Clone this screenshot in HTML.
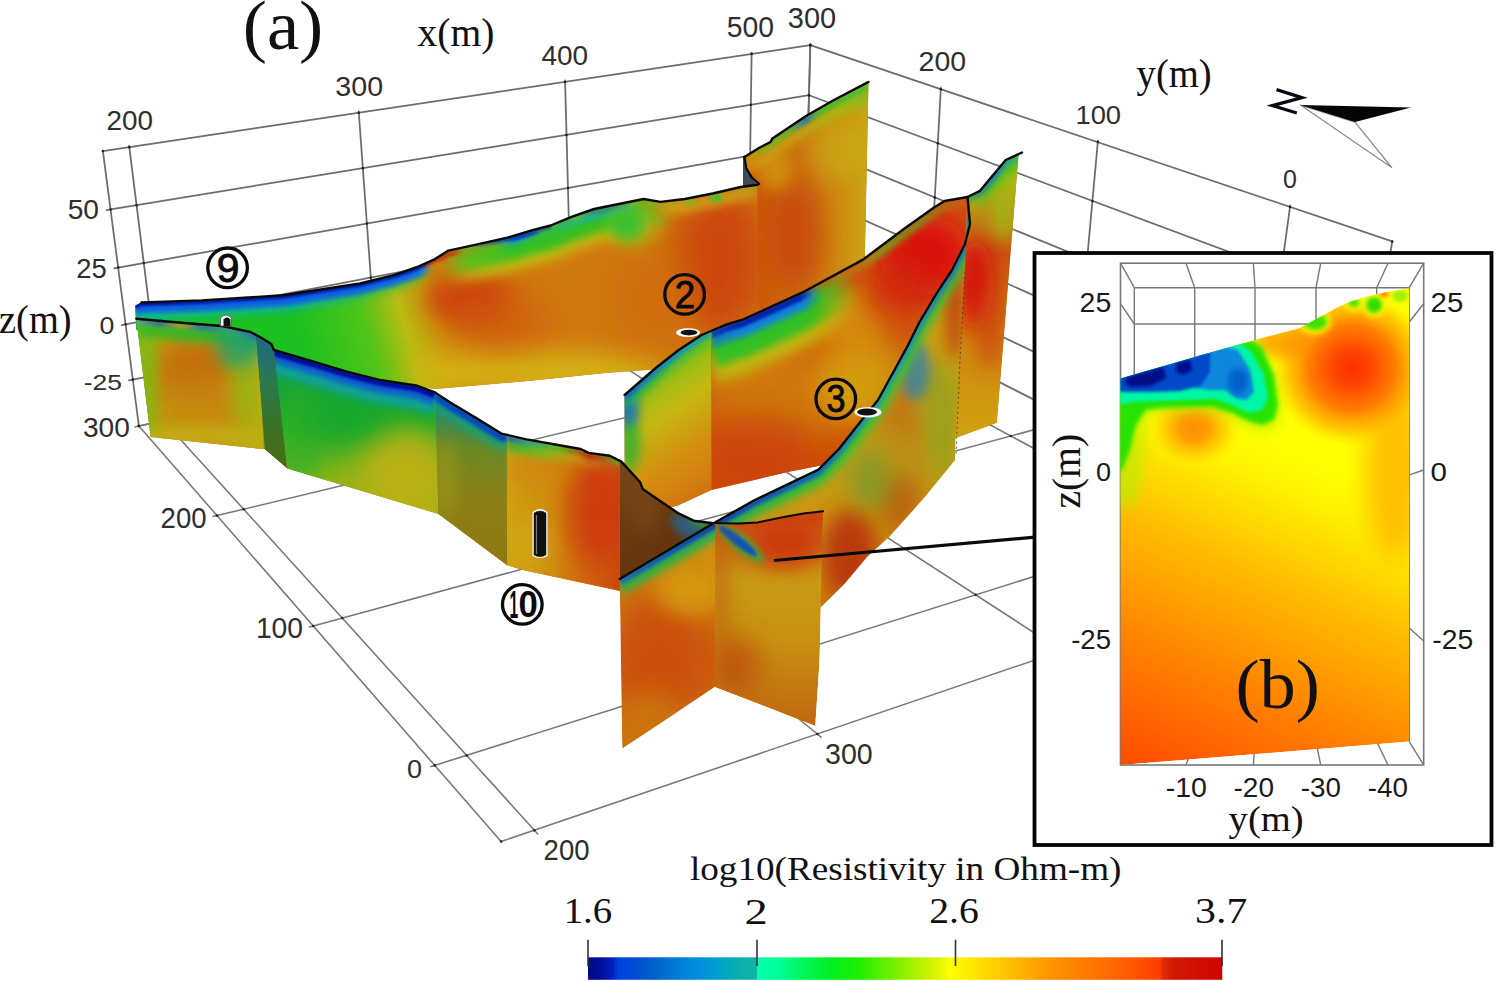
<!DOCTYPE html>
<html><head><meta charset="utf-8"><style>
html,body{margin:0;padding:0;background:#fff;}
svg{display:block;}
</style></head><body>
<svg width="1500" height="981" viewBox="0 0 1500 981">
<rect width="1500" height="981" fill="#fff"/>
<g id="grid" stroke-linecap="round">
<line x1="102.9" y1="151.1" x2="810.3" y2="45.2" stroke="#6c6c6c" stroke-width="1.75"/>
<line x1="110.6" y1="209.4" x2="809.0" y2="95.2" stroke="#6c6c6c" stroke-width="1.75"/>
<line x1="118.2" y1="267.6" x2="807.7" y2="145.4" stroke="#6c6c6c" stroke-width="1.75"/>
<line x1="125.6" y1="324.3" x2="806.4" y2="194.5" stroke="#6c6c6c" stroke-width="1.75"/>
<line x1="132.8" y1="379.6" x2="805.1" y2="242.5" stroke="#6c6c6c" stroke-width="1.75"/>
<line x1="138.9" y1="426.0" x2="804.0" y2="283.1" stroke="#6c6c6c" stroke-width="1.75"/>
<line x1="138.9" y1="426.0" x2="102.9" y2="151.1" stroke="#6c6c6c" stroke-width="1.75"/>
<line x1="163.5" y1="420.7" x2="129.3" y2="147.2" stroke="#6c6c6c" stroke-width="1.75"/>
<line x1="377.9" y1="374.7" x2="358.8" y2="112.8" stroke="#6c6c6c" stroke-width="1.75"/>
<line x1="571.9" y1="333.0" x2="565.1" y2="81.9" stroke="#6c6c6c" stroke-width="1.75"/>
<line x1="748.2" y1="295.1" x2="751.6" y2="54.0" stroke="#6c6c6c" stroke-width="1.75"/>
<line x1="804.0" y1="283.1" x2="810.3" y2="45.2" stroke="#6c6c6c" stroke-width="1.75"/>
<line x1="810.3" y1="45.2" x2="1392.2" y2="241.4" stroke="#6c6c6c" stroke-width="1.75"/>
<line x1="809.0" y1="95.2" x2="1381.4" y2="308.7" stroke="#6c6c6c" stroke-width="1.75"/>
<line x1="807.7" y1="145.4" x2="1370.7" y2="375.5" stroke="#6c6c6c" stroke-width="1.75"/>
<line x1="806.4" y1="194.5" x2="1360.3" y2="440.2" stroke="#6c6c6c" stroke-width="1.75"/>
<line x1="805.1" y1="242.5" x2="1350.2" y2="503.1" stroke="#6c6c6c" stroke-width="1.75"/>
<line x1="804.0" y1="283.1" x2="1341.8" y2="555.7" stroke="#6c6c6c" stroke-width="1.75"/>
<line x1="804.0" y1="283.1" x2="810.3" y2="45.2" stroke="#6c6c6c" stroke-width="1.75"/>
<line x1="926.6" y1="345.3" x2="940.8" y2="89.2" stroke="#6c6c6c" stroke-width="1.75"/>
<line x1="1072.5" y1="419.2" x2="1097.8" y2="142.1" stroke="#6c6c6c" stroke-width="1.75"/>
<line x1="1249.0" y1="508.7" x2="1290.0" y2="206.9" stroke="#6c6c6c" stroke-width="1.75"/>
<line x1="1341.8" y1="555.7" x2="1392.2" y2="241.4" stroke="#6c6c6c" stroke-width="1.75"/>
<line x1="138.9" y1="426.0" x2="804.0" y2="283.1" stroke="#787878" stroke-width="1.55"/>
<line x1="217.0" y1="515.6" x2="926.6" y2="345.3" stroke="#787878" stroke-width="1.55"/>
<line x1="313.2" y1="626.0" x2="1072.5" y2="419.2" stroke="#787878" stroke-width="1.55"/>
<line x1="434.7" y1="765.4" x2="1249.0" y2="508.7" stroke="#787878" stroke-width="1.55"/>
<line x1="501.1" y1="841.5" x2="1341.8" y2="555.7" stroke="#787878" stroke-width="1.55"/>
<line x1="138.9" y1="426.0" x2="501.1" y2="841.5" stroke="#787878" stroke-width="1.55"/>
<line x1="163.5" y1="420.7" x2="534.4" y2="830.2" stroke="#787878" stroke-width="1.55"/>
<line x1="377.9" y1="374.7" x2="817.3" y2="734.0" stroke="#787878" stroke-width="1.55"/>
<line x1="571.9" y1="333.0" x2="1062.0" y2="650.8" stroke="#787878" stroke-width="1.55"/>
<line x1="748.2" y1="295.1" x2="1275.8" y2="578.1" stroke="#787878" stroke-width="1.55"/>
<line x1="804.0" y1="283.1" x2="1341.8" y2="555.7" stroke="#787878" stroke-width="1.55"/>
<line x1="129.3" y1="147.2" x2="129.2" y2="145.7" stroke="#6c6c6c" stroke-width="1.75"/>
<line x1="358.8" y1="112.8" x2="358.7" y2="111.3" stroke="#6c6c6c" stroke-width="1.75"/>
<line x1="565.1" y1="81.9" x2="565.0" y2="80.4" stroke="#6c6c6c" stroke-width="1.75"/>
<line x1="751.6" y1="54.0" x2="751.6" y2="52.5" stroke="#6c6c6c" stroke-width="1.75"/>
<line x1="110.6" y1="209.4" x2="106.6" y2="210.1" stroke="#6c6c6c" stroke-width="1.75"/>
<line x1="118.2" y1="267.6" x2="114.2" y2="268.3" stroke="#6c6c6c" stroke-width="1.75"/>
<line x1="125.6" y1="324.3" x2="121.7" y2="325.1" stroke="#6c6c6c" stroke-width="1.75"/>
<line x1="132.8" y1="379.6" x2="128.9" y2="380.4" stroke="#6c6c6c" stroke-width="1.75"/>
<line x1="138.9" y1="426.0" x2="135.0" y2="426.9" stroke="#787878" stroke-width="1.55"/>
<line x1="217.0" y1="515.6" x2="213.1" y2="516.5" stroke="#787878" stroke-width="1.55"/>
<line x1="313.2" y1="626.0" x2="309.3" y2="627.0" stroke="#787878" stroke-width="1.55"/>
<line x1="434.7" y1="765.4" x2="430.9" y2="766.6" stroke="#787878" stroke-width="1.55"/>
<line x1="810.3" y1="45.2" x2="810.4" y2="43.7" stroke="#6c6c6c" stroke-width="1.75"/>
<line x1="940.8" y1="89.2" x2="940.9" y2="87.7" stroke="#6c6c6c" stroke-width="1.75"/>
<line x1="1097.8" y1="142.1" x2="1097.9" y2="140.6" stroke="#6c6c6c" stroke-width="1.75"/>
<line x1="1290.0" y1="206.9" x2="1290.2" y2="205.4" stroke="#6c6c6c" stroke-width="1.75"/>
<line x1="534.4" y1="830.2" x2="537.7" y2="833.9" stroke="#787878" stroke-width="1.55"/>
<line x1="817.3" y1="734.0" x2="821.1" y2="737.2" stroke="#787878" stroke-width="1.55"/>
<circle cx="102.9" cy="151.1" r="1.25" fill="#1e1e1e"/>
<circle cx="110.6" cy="209.4" r="1.25" fill="#1e1e1e"/>
<circle cx="118.2" cy="267.6" r="1.25" fill="#1e1e1e"/>
<circle cx="125.6" cy="324.3" r="1.25" fill="#1e1e1e"/>
<circle cx="132.8" cy="379.6" r="1.25" fill="#1e1e1e"/>
<circle cx="138.9" cy="426.0" r="1.25" fill="#1e1e1e"/>
<circle cx="138.9" cy="426.0" r="1.25" fill="#1e1e1e"/>
<circle cx="217.0" cy="515.6" r="1.25" fill="#1e1e1e"/>
<circle cx="313.2" cy="626.0" r="1.25" fill="#1e1e1e"/>
<circle cx="434.7" cy="765.4" r="1.25" fill="#1e1e1e"/>
<circle cx="501.1" cy="841.5" r="1.25" fill="#1e1e1e"/>
<circle cx="129.3" cy="147.2" r="1.25" fill="#1e1e1e"/>
<circle cx="136.6" cy="205.2" r="1.25" fill="#1e1e1e"/>
<circle cx="143.8" cy="263.1" r="1.25" fill="#1e1e1e"/>
<circle cx="150.9" cy="319.5" r="1.25" fill="#1e1e1e"/>
<circle cx="157.7" cy="374.5" r="1.25" fill="#1e1e1e"/>
<circle cx="163.5" cy="420.7" r="1.25" fill="#1e1e1e"/>
<circle cx="163.5" cy="420.7" r="1.25" fill="#1e1e1e"/>
<circle cx="243.6" cy="509.2" r="1.25" fill="#1e1e1e"/>
<circle cx="342.3" cy="618.1" r="1.25" fill="#1e1e1e"/>
<circle cx="466.6" cy="755.4" r="1.25" fill="#1e1e1e"/>
<circle cx="534.4" cy="830.2" r="1.25" fill="#1e1e1e"/>
<circle cx="358.8" cy="112.8" r="1.25" fill="#1e1e1e"/>
<circle cx="362.8" cy="168.2" r="1.25" fill="#1e1e1e"/>
<circle cx="366.9" cy="223.6" r="1.25" fill="#1e1e1e"/>
<circle cx="370.8" cy="277.6" r="1.25" fill="#1e1e1e"/>
<circle cx="374.7" cy="330.3" r="1.25" fill="#1e1e1e"/>
<circle cx="377.9" cy="374.7" r="1.25" fill="#1e1e1e"/>
<circle cx="377.9" cy="374.7" r="1.25" fill="#1e1e1e"/>
<circle cx="474.6" cy="453.7" r="1.25" fill="#1e1e1e"/>
<circle cx="592.3" cy="550.0" r="1.25" fill="#1e1e1e"/>
<circle cx="738.5" cy="669.6" r="1.25" fill="#1e1e1e"/>
<circle cx="817.3" cy="734.0" r="1.25" fill="#1e1e1e"/>
<circle cx="565.1" cy="81.9" r="1.25" fill="#1e1e1e"/>
<circle cx="566.5" cy="134.9" r="1.25" fill="#1e1e1e"/>
<circle cx="568.0" cy="187.9" r="1.25" fill="#1e1e1e"/>
<circle cx="569.4" cy="239.7" r="1.25" fill="#1e1e1e"/>
<circle cx="570.8" cy="290.3" r="1.25" fill="#1e1e1e"/>
<circle cx="571.9" cy="333.0" r="1.25" fill="#1e1e1e"/>
<circle cx="571.9" cy="333.0" r="1.25" fill="#1e1e1e"/>
<circle cx="681.6" cy="404.1" r="1.25" fill="#1e1e1e"/>
<circle cx="813.6" cy="489.7" r="1.25" fill="#1e1e1e"/>
<circle cx="975.7" cy="594.8" r="1.25" fill="#1e1e1e"/>
<circle cx="1062.0" cy="650.8" r="1.25" fill="#1e1e1e"/>
<circle cx="751.6" cy="54.0" r="1.25" fill="#1e1e1e"/>
<circle cx="750.9" cy="104.7" r="1.25" fill="#1e1e1e"/>
<circle cx="750.2" cy="155.6" r="1.25" fill="#1e1e1e"/>
<circle cx="749.5" cy="205.4" r="1.25" fill="#1e1e1e"/>
<circle cx="748.8" cy="254.0" r="1.25" fill="#1e1e1e"/>
<circle cx="748.2" cy="295.1" r="1.25" fill="#1e1e1e"/>
<circle cx="748.2" cy="295.1" r="1.25" fill="#1e1e1e"/>
<circle cx="868.0" cy="359.3" r="1.25" fill="#1e1e1e"/>
<circle cx="1010.9" cy="436.0" r="1.25" fill="#1e1e1e"/>
<circle cx="1184.3" cy="529.1" r="1.25" fill="#1e1e1e"/>
<circle cx="1275.8" cy="578.1" r="1.25" fill="#1e1e1e"/>
<circle cx="810.3" cy="45.2" r="1.25" fill="#1e1e1e"/>
<circle cx="809.0" cy="95.2" r="1.25" fill="#1e1e1e"/>
<circle cx="807.7" cy="145.4" r="1.25" fill="#1e1e1e"/>
<circle cx="806.4" cy="194.5" r="1.25" fill="#1e1e1e"/>
<circle cx="805.1" cy="242.5" r="1.25" fill="#1e1e1e"/>
<circle cx="804.0" cy="283.1" r="1.25" fill="#1e1e1e"/>
<circle cx="804.0" cy="283.1" r="1.25" fill="#1e1e1e"/>
<circle cx="926.6" cy="345.3" r="1.25" fill="#1e1e1e"/>
<circle cx="1072.5" cy="419.2" r="1.25" fill="#1e1e1e"/>
<circle cx="1249.0" cy="508.7" r="1.25" fill="#1e1e1e"/>
<circle cx="1341.8" cy="555.7" r="1.25" fill="#1e1e1e"/>
<circle cx="810.3" cy="45.2" r="1.25" fill="#1e1e1e"/>
<circle cx="809.0" cy="95.2" r="1.25" fill="#1e1e1e"/>
<circle cx="807.7" cy="145.4" r="1.25" fill="#1e1e1e"/>
<circle cx="806.4" cy="194.5" r="1.25" fill="#1e1e1e"/>
<circle cx="805.1" cy="242.5" r="1.25" fill="#1e1e1e"/>
<circle cx="804.0" cy="283.1" r="1.25" fill="#1e1e1e"/>
<circle cx="940.8" cy="89.2" r="1.25" fill="#1e1e1e"/>
<circle cx="937.8" cy="143.3" r="1.25" fill="#1e1e1e"/>
<circle cx="934.8" cy="197.4" r="1.25" fill="#1e1e1e"/>
<circle cx="931.9" cy="250.2" r="1.25" fill="#1e1e1e"/>
<circle cx="929.0" cy="301.8" r="1.25" fill="#1e1e1e"/>
<circle cx="926.6" cy="345.3" r="1.25" fill="#1e1e1e"/>
<circle cx="1097.8" cy="142.1" r="1.25" fill="#1e1e1e"/>
<circle cx="1092.4" cy="200.9" r="1.25" fill="#1e1e1e"/>
<circle cx="1087.1" cy="259.6" r="1.25" fill="#1e1e1e"/>
<circle cx="1081.8" cy="316.7" r="1.25" fill="#1e1e1e"/>
<circle cx="1076.8" cy="372.4" r="1.25" fill="#1e1e1e"/>
<circle cx="1072.5" cy="419.2" r="1.25" fill="#1e1e1e"/>
<circle cx="1290.0" cy="206.9" r="1.25" fill="#1e1e1e"/>
<circle cx="1281.3" cy="271.3" r="1.25" fill="#1e1e1e"/>
<circle cx="1272.5" cy="335.4" r="1.25" fill="#1e1e1e"/>
<circle cx="1264.1" cy="397.6" r="1.25" fill="#1e1e1e"/>
<circle cx="1255.9" cy="458.0" r="1.25" fill="#1e1e1e"/>
<circle cx="1249.0" cy="508.7" r="1.25" fill="#1e1e1e"/>
<circle cx="1392.2" cy="241.4" r="1.25" fill="#1e1e1e"/>
<circle cx="1381.4" cy="308.7" r="1.25" fill="#1e1e1e"/>
<circle cx="1370.7" cy="375.5" r="1.25" fill="#1e1e1e"/>
<circle cx="1360.3" cy="440.2" r="1.25" fill="#1e1e1e"/>
<circle cx="1350.2" cy="503.1" r="1.25" fill="#1e1e1e"/>
<circle cx="1341.8" cy="555.7" r="1.25" fill="#1e1e1e"/>
</g>
<g id="panels">
<defs><filter id="b6" x="-100%" y="-100%" width="300%" height="300%"><feGaussianBlur stdDeviation="6"/></filter>
<filter id="b12" x="-100%" y="-100%" width="300%" height="300%"><feGaussianBlur stdDeviation="12"/></filter>
<filter id="b14" x="-100%" y="-100%" width="300%" height="300%"><feGaussianBlur stdDeviation="14"/></filter>
<filter id="b16" x="-100%" y="-100%" width="300%" height="300%"><feGaussianBlur stdDeviation="16"/></filter>
<filter id="b4" x="-100%" y="-100%" width="300%" height="300%"><feGaussianBlur stdDeviation="4"/></filter>
<filter id="b2_5" x="-100%" y="-100%" width="300%" height="300%"><feGaussianBlur stdDeviation="2.5"/></filter>
<filter id="b1_5" x="-100%" y="-100%" width="300%" height="300%"><feGaussianBlur stdDeviation="1.5"/></filter>
<filter id="b2" x="-100%" y="-100%" width="300%" height="300%"><feGaussianBlur stdDeviation="2"/></filter>
<filter id="b1_2" x="-100%" y="-100%" width="300%" height="300%"><feGaussianBlur stdDeviation="1.2"/></filter>
<filter id="b8" x="-100%" y="-100%" width="300%" height="300%"><feGaussianBlur stdDeviation="8"/></filter>
<filter id="b10" x="-100%" y="-100%" width="300%" height="300%"><feGaussianBlur stdDeviation="10"/></filter>
<filter id="b5" x="-100%" y="-100%" width="300%" height="300%"><feGaussianBlur stdDeviation="5"/></filter>
<filter id="b18" x="-100%" y="-100%" width="300%" height="300%"><feGaussianBlur stdDeviation="18"/></filter>
<filter id="b7" x="-100%" y="-100%" width="300%" height="300%"><feGaussianBlur stdDeviation="7"/></filter>
<filter id="b3" x="-100%" y="-100%" width="300%" height="300%"><feGaussianBlur stdDeviation="3"/></filter>
<filter id="b1_8" x="-100%" y="-100%" width="300%" height="300%"><feGaussianBlur stdDeviation="1.8"/></filter>
<linearGradient id="g1" gradientUnits="userSpaceOnUse" x1="300" y1="335" x2="480" y2="285"><stop offset="0" stop-color="#1cc020"/><stop offset="0.35" stop-color="#50c418"/><stop offset="0.55" stop-color="#b8bc12"/><stop offset="0.75" stop-color="#d09010"/><stop offset="1" stop-color="#d07810"/></linearGradient>
<clipPath id="c2"><polygon points="135.3,305.5 141.4,302.4 201.6,300.4 283.0,295.3 360.0,283.5 394.7,274.9 417.2,267.0 434.5,259.3 448.4,250.6 472.7,245.4 507.3,237.6 533.3,229.8 550.7,225.5 571.5,216.8 594.0,209.0 620.0,203.8 643.6,199.0 660.4,201.9 684.7,199.0 712.7,193.5 740.7,187.0 757.5,184.7 757.5,370.0 653.0,369.4 605.0,373.0 528.0,381.0 435.0,389.0 300.0,372.0 136.3,330.0"/></clipPath>
<linearGradient id="g3" gradientUnits="userSpaceOnUse" x1="440" y1="0" x2="670" y2="0"><stop offset="0.0000" stop-color="#c8c010" stop-opacity="0"/><stop offset="0.1522" stop-color="#c8c010" stop-opacity="0.8"/><stop offset="0.4348" stop-color="#c8c010" stop-opacity="0.9"/><stop offset="0.8261" stop-color="#c8c010" stop-opacity="0.8"/><stop offset="1.0000" stop-color="#c8c010" stop-opacity="0"/></linearGradient>
<linearGradient id="g4" gradientUnits="userSpaceOnUse" x1="440" y1="0" x2="675" y2="0"><stop offset="0.0000" stop-color="#40c020" stop-opacity="0"/><stop offset="0.1277" stop-color="#50c020" stop-opacity="0.9"/><stop offset="0.3404" stop-color="#30c020" stop-opacity="1"/><stop offset="0.7234" stop-color="#30c020" stop-opacity="1"/><stop offset="0.8936" stop-color="#50c020" stop-opacity="0.7"/><stop offset="1.0000" stop-color="#50c020" stop-opacity="0"/></linearGradient>
<linearGradient id="g5" gradientUnits="userSpaceOnUse" x1="495" y1="0" x2="640" y2="0"><stop offset="0.0000" stop-color="#10b0b0" stop-opacity="0"/><stop offset="0.1379" stop-color="#10a0c0" stop-opacity="0.9"/><stop offset="0.3448" stop-color="#30c040" stop-opacity="0.6"/><stop offset="0.6207" stop-color="#10b0c0" stop-opacity="1"/><stop offset="0.8966" stop-color="#10b0c0" stop-opacity="1"/><stop offset="1.0000" stop-color="#10b0c0" stop-opacity="0"/></linearGradient>
<linearGradient id="g6" gradientUnits="userSpaceOnUse" x1="505" y1="0" x2="632" y2="0"><stop offset="0.0000" stop-color="#0030d0" stop-opacity="0"/><stop offset="0.0866" stop-color="#0030d0" stop-opacity="1"/><stop offset="0.2126" stop-color="#0030d0" stop-opacity="1"/><stop offset="0.2913" stop-color="#0030d0" stop-opacity="0"/><stop offset="0.5906" stop-color="#0050e0" stop-opacity="0"/><stop offset="0.6850" stop-color="#0040e0" stop-opacity="1"/><stop offset="0.9213" stop-color="#0050e0" stop-opacity="1"/><stop offset="1.0000" stop-color="#0050e0" stop-opacity="0"/></linearGradient>
<linearGradient id="g7" gradientUnits="userSpaceOnUse" x1="436" y1="0" x2="462" y2="0"><stop offset="0.0000" stop-color="#d02010" stop-opacity="0"/><stop offset="0.2308" stop-color="#d02010" stop-opacity="0.9"/><stop offset="0.7308" stop-color="#d02010" stop-opacity="0.9"/><stop offset="1.0000" stop-color="#d02010" stop-opacity="0"/></linearGradient>
<linearGradient id="g8" gradientUnits="userSpaceOnUse" x1="135" y1="0" x2="760" y2="0"><stop offset="0.0000" stop-color="#10c090" stop-opacity="1"/><stop offset="0.2640" stop-color="#10b0a0" stop-opacity="1"/><stop offset="0.4560" stop-color="#30c030" stop-opacity="0.6"/><stop offset="0.4880" stop-color="#d06010" stop-opacity="0"/><stop offset="1.0000" stop-color="#d06010" stop-opacity="0"/></linearGradient>
<linearGradient id="g9" gradientUnits="userSpaceOnUse" x1="135" y1="0" x2="760" y2="0"><stop offset="0.0000" stop-color="#0a60e0" stop-opacity="1"/><stop offset="0.3120" stop-color="#0860e0" stop-opacity="1"/><stop offset="0.4560" stop-color="#1070e0" stop-opacity="1"/><stop offset="0.4752" stop-color="#1070e0" stop-opacity="0"/><stop offset="1.0000" stop-color="#000" stop-opacity="0"/></linearGradient>
<linearGradient id="g10" gradientUnits="userSpaceOnUse" x1="135" y1="0" x2="760" y2="0"><stop offset="0.0000" stop-color="#0010a0" stop-opacity="1"/><stop offset="0.2640" stop-color="#0018b0" stop-opacity="1"/><stop offset="0.4560" stop-color="#0020c0" stop-opacity="1"/><stop offset="0.4752" stop-color="#d02010" stop-opacity="0.9"/><stop offset="0.5360" stop-color="#60c020" stop-opacity="0.8"/><stop offset="0.5840" stop-color="#0030d0" stop-opacity="0.8"/><stop offset="0.8080" stop-color="#40c020" stop-opacity="0.7"/><stop offset="1.0000" stop-color="#40c020" stop-opacity="0.6"/></linearGradient>
<linearGradient id="g11" gradientUnits="userSpaceOnUse" x1="640" y1="0" x2="760" y2="0"><stop offset="0.0000" stop-color="#60c020" stop-opacity="0.7"/><stop offset="0.5000" stop-color="#d08010" stop-opacity="0.6"/><stop offset="1.0000" stop-color="#60c020" stop-opacity="0.6"/></linearGradient>
<linearGradient id="g12" gradientUnits="userSpaceOnUse" x1="650" y1="0" x2="757" y2="0"><stop offset="0.0000" stop-color="#d0a010" stop-opacity="0"/><stop offset="0.1869" stop-color="#d0a818" stop-opacity="0.8"/><stop offset="0.8411" stop-color="#d0a818" stop-opacity="0.8"/><stop offset="1.0000" stop-color="#d0a818" stop-opacity="0.6"/></linearGradient>
<clipPath id="c13"><polygon points="743.0,155.0 744.4,157.0 746.3,168.3 751.9,177.6 757.5,184.7 743.0,187.0"/></clipPath>
<linearGradient id="g14" gradientUnits="userSpaceOnUse" x1="757" y1="0" x2="868" y2="0"><stop offset="0" stop-color="#cc5a0a"/><stop offset="0.45" stop-color="#cc7410"/><stop offset="0.8" stop-color="#cf9212"/><stop offset="1" stop-color="#c8a614"/></linearGradient>
<clipPath id="c15"><polygon points="744.4,157.0 759.3,147.7 770.5,142.0 772.4,138.4 806.0,116.0 834.0,100.0 867.6,82.4 868.5,82.0 864.0,300.0 757.5,368.0 757.5,184.7 751.9,177.6 746.3,168.3"/></clipPath>
<linearGradient id="g16" gradientUnits="userSpaceOnUse" x1="744" y1="0" x2="868" y2="0"><stop offset="0.0000" stop-color="#d8a010" stop-opacity="0.7"/><stop offset="0.4516" stop-color="#c0b814" stop-opacity="0.7"/><stop offset="0.7742" stop-color="#a0c010" stop-opacity="0.8"/><stop offset="1.0000" stop-color="#70c020" stop-opacity="0.9"/></linearGradient>
<linearGradient id="g17" gradientUnits="userSpaceOnUse" x1="744" y1="0" x2="868" y2="0"><stop offset="0.0000" stop-color="#d0a010" stop-opacity="0.5"/><stop offset="0.1694" stop-color="#60c020" stop-opacity="0.8"/><stop offset="0.3710" stop-color="#40c030" stop-opacity="0.8"/><stop offset="0.5000" stop-color="#1070d0" stop-opacity="1"/><stop offset="0.5968" stop-color="#30c030" stop-opacity="0.9"/><stop offset="0.8145" stop-color="#40c030" stop-opacity="1"/><stop offset="1.0000" stop-color="#40c030" stop-opacity="1"/></linearGradient>
<linearGradient id="g18" gradientUnits="userSpaceOnUse" x1="630" y1="385" x2="711" y2="505"><stop offset="0" stop-color="#80c018"/><stop offset="0.3" stop-color="#c4b812"/><stop offset="0.6" stop-color="#d49010"/><stop offset="1" stop-color="#d06a10"/></linearGradient>
<clipPath id="c19"><polygon points="624.6,395.0 655.7,368.0 678.7,350.0 701.6,335.0 711.5,330.8 711.5,490.0 678.0,505.4 640.0,515.0 624.6,520.0"/></clipPath>
<linearGradient id="g20" gradientUnits="userSpaceOnUse" x1="625" y1="0" x2="711" y2="0"><stop offset="0.0000" stop-color="#20b050" stop-opacity="1"/><stop offset="1.0000" stop-color="#60c020" stop-opacity="1"/></linearGradient>
<linearGradient id="g21" gradientUnits="userSpaceOnUse" x1="625" y1="0" x2="711" y2="0"><stop offset="0.0000" stop-color="#1060d0" stop-opacity="1"/><stop offset="0.6395" stop-color="#1090c0" stop-opacity="1"/><stop offset="1.0000" stop-color="#20a0a0" stop-opacity="1"/></linearGradient>
<linearGradient id="g22" gradientUnits="userSpaceOnUse" x1="0" y1="230" x2="0" y2="480"><stop offset="0" stop-color="#d05010"/><stop offset="0.5" stop-color="#d05810"/><stop offset="1" stop-color="#cc4a08"/></linearGradient>
<clipPath id="c23"><polygon points="711.5,330.8 725.0,325.0 743.3,319.4 802.0,292.7 863.0,259.6 903.8,229.0 934.4,207.3 944.6,201.0 967.5,197.0 962.0,300.0 956.0,437.0 900.0,452.0 818.5,466.0 788.0,472.0 711.5,490.0"/></clipPath>
<linearGradient id="g24" gradientUnits="userSpaceOnUse" x1="711" y1="0" x2="870" y2="0"><stop offset="0.0000" stop-color="#c0c010" stop-opacity="0.9"/><stop offset="0.7484" stop-color="#c8c010" stop-opacity="0.9"/><stop offset="0.8742" stop-color="#c8c010" stop-opacity="0.5"/><stop offset="1.0000" stop-color="#c8c010" stop-opacity="0"/></linearGradient>
<linearGradient id="g25" gradientUnits="userSpaceOnUse" x1="711" y1="0" x2="855" y2="0"><stop offset="0.0000" stop-color="#30c020" stop-opacity="1"/><stop offset="0.7222" stop-color="#30c020" stop-opacity="1"/><stop offset="0.8611" stop-color="#50c020" stop-opacity="0.7"/><stop offset="1.0000" stop-color="#50c020" stop-opacity="0"/></linearGradient>
<linearGradient id="g26" gradientUnits="userSpaceOnUse" x1="711" y1="0" x2="822" y2="0"><stop offset="0.0000" stop-color="#1070d0" stop-opacity="0.8"/><stop offset="0.2613" stop-color="#1080e0" stop-opacity="1"/><stop offset="0.8468" stop-color="#1080e0" stop-opacity="1"/><stop offset="1.0000" stop-color="#1080e0" stop-opacity="0"/></linearGradient>
<linearGradient id="g27" gradientUnits="userSpaceOnUse" x1="711" y1="0" x2="815" y2="0"><stop offset="0.0000" stop-color="#0030c0" stop-opacity="0.8"/><stop offset="0.2788" stop-color="#0020b0" stop-opacity="1"/><stop offset="0.8558" stop-color="#0020b0" stop-opacity="1"/><stop offset="1.0000" stop-color="#0030c0" stop-opacity="0"/></linearGradient>
<linearGradient id="g28" gradientUnits="userSpaceOnUse" x1="830" y1="0" x2="967" y2="0"><stop offset="0.0000" stop-color="#60c020" stop-opacity="0"/><stop offset="0.1460" stop-color="#d07010" stop-opacity="0.6"/><stop offset="0.3650" stop-color="#60c020" stop-opacity="0.8"/><stop offset="0.6569" stop-color="#50c020" stop-opacity="0.7"/><stop offset="1.0000" stop-color="#d06010" stop-opacity="0.5"/></linearGradient>
<linearGradient id="g29" gradientUnits="userSpaceOnUse" x1="0" y1="180" x2="0" y2="430"><stop offset="0" stop-color="#b0b814"/><stop offset="0.3" stop-color="#cc5010"/><stop offset="0.6" stop-color="#d08410"/><stop offset="1" stop-color="#d0a010"/></linearGradient>
<clipPath id="c30"><polygon points="967.5,197.0 980.0,190.8 1005.7,160.0 1022.0,152.5 1018.5,155.0 996.8,422.8 954.0,438.4 954.5,420.0 963.5,270.0 966.5,230.0"/></clipPath>
<linearGradient id="g31" gradientUnits="userSpaceOnUse" x1="967" y1="0" x2="1022" y2="0"><stop offset="0.0000" stop-color="#c0a010" stop-opacity="1"/><stop offset="0.4182" stop-color="#50c020" stop-opacity="1"/><stop offset="1.0000" stop-color="#40c020" stop-opacity="1"/></linearGradient>
<linearGradient id="g32" gradientUnits="userSpaceOnUse" x1="967" y1="0" x2="1022" y2="0"><stop offset="0.0000" stop-color="#30b040" stop-opacity="1"/><stop offset="0.5091" stop-color="#1070d0" stop-opacity="1"/><stop offset="0.7818" stop-color="#20a0a0" stop-opacity="1"/><stop offset="1.0000" stop-color="#40c030" stop-opacity="1"/></linearGradient>
<linearGradient id="g33" gradientUnits="userSpaceOnUse" x1="136" y1="0" x2="260" y2="0"><stop offset="0" stop-color="#90bc14"/><stop offset="0.25" stop-color="#c0a010"/><stop offset="0.6" stop-color="#c89010"/><stop offset="1" stop-color="#b8b014"/></linearGradient>
<clipPath id="c34"><polygon points="136.3,318.7 181.0,322.8 222.0,326.0 250.5,332.0 258.0,335.9 264.0,449.3 150.6,437.0"/></clipPath>
<linearGradient id="g35" gradientUnits="userSpaceOnUse" x1="136" y1="0" x2="258" y2="0"><stop offset="0.0000" stop-color="#40b820" stop-opacity="1"/><stop offset="0.5246" stop-color="#38b428" stop-opacity="1"/><stop offset="1.0000" stop-color="#20a070" stop-opacity="1"/></linearGradient>
<linearGradient id="g36" gradientUnits="userSpaceOnUse" x1="136" y1="0" x2="258" y2="0"><stop offset="0.0000" stop-color="#60a0a0" stop-opacity="1"/><stop offset="0.1967" stop-color="#2060c0" stop-opacity="1"/><stop offset="0.3607" stop-color="#c0a020" stop-opacity="1"/><stop offset="0.5246" stop-color="#2070c0" stop-opacity="1"/><stop offset="0.7705" stop-color="#30a080" stop-opacity="1"/><stop offset="1.0000" stop-color="#2060c0" stop-opacity="1"/></linearGradient>
<linearGradient id="g37" gradientUnits="userSpaceOnUse" x1="0" y1="340" x2="0" y2="460"><stop offset="0" stop-color="#1f6a80"/><stop offset="0.35" stop-color="#2a7a50"/><stop offset="0.7" stop-color="#3a7228"/><stop offset="1" stop-color="#486e18"/></linearGradient>
<clipPath id="c38"><polygon points="255.6,334.0 260.0,337.0 271.3,343.9 275.0,349.3 287.2,468.6 264.8,449.3"/></clipPath>
<linearGradient id="g39" gradientUnits="userSpaceOnUse" x1="0" y1="350" x2="0" y2="510"><stop offset="0" stop-color="#10a050"/><stop offset="0.45" stop-color="#20ac28"/><stop offset="0.8" stop-color="#90b418"/><stop offset="1" stop-color="#b0b014"/></linearGradient>
<clipPath id="c40"><polygon points="273.9,350.0 312.0,361.2 346.7,371.6 381.3,380.3 416.0,385.5 435.0,392.4 438.4,514.0 287.2,468.6"/></clipPath>
<linearGradient id="g41" gradientUnits="userSpaceOnUse" x1="275" y1="0" x2="435" y2="0"><stop offset="0.0000" stop-color="#10a0a0" stop-opacity="1"/><stop offset="1.0000" stop-color="#10a0a0" stop-opacity="1"/></linearGradient>
<linearGradient id="g42" gradientUnits="userSpaceOnUse" x1="275" y1="0" x2="435" y2="0"><stop offset="0.0000" stop-color="#0858d8" stop-opacity="1"/><stop offset="1.0000" stop-color="#0858d8" stop-opacity="1"/></linearGradient>
<linearGradient id="g43" gradientUnits="userSpaceOnUse" x1="275" y1="0" x2="435" y2="0"><stop offset="0.0000" stop-color="#0010a0" stop-opacity="1"/><stop offset="1.0000" stop-color="#0010a8" stop-opacity="1"/></linearGradient>
<linearGradient id="g44" gradientUnits="userSpaceOnUse" x1="0" y1="400" x2="0" y2="560"><stop offset="0" stop-color="#208a70"/><stop offset="0.3" stop-color="#6a8a28"/><stop offset="0.6" stop-color="#8a8016"/><stop offset="1" stop-color="#907a10"/></linearGradient>
<clipPath id="c45"><polygon points="435.0,392.4 450.7,402.8 476.7,418.4 501.3,433.6 507.0,434.9 507.0,565.2 438.4,514.0"/></clipPath>
<linearGradient id="g46" gradientUnits="userSpaceOnUse" x1="435" y1="0" x2="507" y2="0"><stop offset="0.0000" stop-color="#10a080" stop-opacity="1"/><stop offset="1.0000" stop-color="#20a070" stop-opacity="1"/></linearGradient>
<linearGradient id="g47" gradientUnits="userSpaceOnUse" x1="435" y1="0" x2="507" y2="0"><stop offset="0.0000" stop-color="#0040c8" stop-opacity="1"/><stop offset="1.0000" stop-color="#0040c8" stop-opacity="1"/></linearGradient>
<linearGradient id="g48" gradientUnits="userSpaceOnUse" x1="507" y1="0" x2="620" y2="0"><stop offset="0" stop-color="#d0a010"/><stop offset="0.4" stop-color="#d08a10"/><stop offset="0.75" stop-color="#d06010"/><stop offset="1" stop-color="#cc4a0a"/></linearGradient>
<clipPath id="c49"><polygon points="507.0,434.9 526.5,439.4 559.4,445.2 580.7,449.0 588.5,452.9 609.8,455.8 619.7,460.8 619.7,591.0 522.6,570.0 507.0,565.2"/></clipPath>
<linearGradient id="g50" gradientUnits="userSpaceOnUse" x1="507" y1="0" x2="619" y2="0"><stop offset="0.0000" stop-color="#30b030" stop-opacity="1"/><stop offset="0.2946" stop-color="#60c020" stop-opacity="1"/><stop offset="0.6518" stop-color="#c0b010" stop-opacity="0.5"/><stop offset="1.0000" stop-color="#d05010" stop-opacity="0.5"/></linearGradient>
<linearGradient id="g51" gradientUnits="userSpaceOnUse" x1="507" y1="0" x2="619" y2="0"><stop offset="0.0000" stop-color="#0050d0" stop-opacity="1"/><stop offset="0.2054" stop-color="#20a0a0" stop-opacity="1"/><stop offset="0.4732" stop-color="#40c020" stop-opacity="1"/><stop offset="0.7411" stop-color="#c02010" stop-opacity="1"/><stop offset="1.0000" stop-color="#40c020" stop-opacity="1"/></linearGradient>
<linearGradient id="g52" gradientUnits="userSpaceOnUse" x1="620" y1="470" x2="700" y2="560"><stop offset="0" stop-color="#76461a"/><stop offset="0.5" stop-color="#68380f"/><stop offset="1" stop-color="#62340e"/></linearGradient>
<clipPath id="c53"><polygon points="619.7,460.8 621.4,461.6 640.0,482.0 642.7,488.9 663.0,503.0 678.0,513.0 693.6,520.7 711.5,523.0 715.0,600.0 619.7,591.0"/></clipPath>
<linearGradient id="g54" gradientUnits="userSpaceOnUse" x1="0" y1="460" x2="0" y2="740"><stop offset="0" stop-color="#c8a014"/><stop offset="0.35" stop-color="#cc8a10"/><stop offset="0.7" stop-color="#cc6010"/><stop offset="1" stop-color="#cc7010"/></linearGradient>
<clipPath id="c55"><polygon points="619.7,579.0 714.0,523.0 754.8,500.0 818.5,469.7 838.9,449.0 861.8,420.0 878.0,400.0 907.6,346.0 919.0,323.0 937.0,292.7 952.0,270.0 965.0,244.0 970.0,224.0 967.5,197.0 965.0,270.0 956.0,420.0 955.0,460.3 925.5,496.2 889.7,536.6 867.2,556.7 844.8,583.6 822.4,606.0 714.7,686.9 622.3,748.5"/></clipPath>
<linearGradient id="g56" gradientUnits="userSpaceOnUse" x1="620" y1="0" x2="967" y2="0"><stop offset="0.0000" stop-color="#30b040" stop-opacity="1"/><stop offset="0.2738" stop-color="#20b050" stop-opacity="1"/><stop offset="0.5764" stop-color="#30c030" stop-opacity="1"/><stop offset="0.7493" stop-color="#40c030" stop-opacity="1"/><stop offset="1.0000" stop-color="#50b030" stop-opacity="1"/></linearGradient>
<linearGradient id="g57" gradientUnits="userSpaceOnUse" x1="620" y1="0" x2="967" y2="0"><stop offset="0.0000" stop-color="#0860c8" stop-opacity="1"/><stop offset="0.2738" stop-color="#0030c0" stop-opacity="1"/><stop offset="0.5764" stop-color="#0060d0" stop-opacity="1"/><stop offset="0.7493" stop-color="#20a0a0" stop-opacity="1"/><stop offset="1.0000" stop-color="#1070c0" stop-opacity="1"/></linearGradient>
<linearGradient id="g58" gradientUnits="userSpaceOnUse" x1="0" y1="520" x2="0" y2="720"><stop offset="0" stop-color="#cc4810"/><stop offset="0.3" stop-color="#c89a14"/><stop offset="0.6" stop-color="#c89010"/><stop offset="1" stop-color="#c06a10"/></linearGradient>
<clipPath id="c59"><polygon points="711.5,523.0 738.0,523.4 757.7,522.4 783.8,516.9 803.4,513.6 823.0,511.3 819.6,660.0 815.3,725.9 714.7,686.9 715.3,525.0"/></clipPath></defs>
<polygon points="135.3,305.5 141.4,302.4 201.6,300.4 283.0,295.3 360.0,283.5 394.7,274.9 417.2,267.0 434.5,259.3 448.4,250.6 472.7,245.4 507.3,237.6 533.3,229.8 550.7,225.5 571.5,216.8 594.0,209.0 620.0,203.8 643.6,199.0 660.4,201.9 684.7,199.0 712.7,193.5 740.7,187.0 757.5,184.7 751.9,177.6 746.3,168.3 744.4,157.0 759.3,147.7 770.5,142.0 772.4,138.4 806.0,116.0 834.0,100.0 867.6,82.4 868.5,82.0 864.0,300.0 757.5,370.0 653.0,369.4 605.0,373.0 528.0,381.0 435.0,389.0 300.0,372.0 136.3,330.0" fill="#cc6a10"/>
<g clip-path="url(#c2)">
<polygon points="135.3,305.5 141.4,302.4 201.6,300.4 283.0,295.3 360.0,283.5 394.7,274.9 417.2,267.0 434.5,259.3 448.4,250.6 472.7,245.4 507.3,237.6 533.3,229.8 550.7,225.5 571.5,216.8 594.0,209.0 620.0,203.8 643.6,199.0 660.4,201.9 684.7,199.0 712.7,193.5 740.7,187.0 757.5,184.7 757.5,370.0 653.0,369.4 605.0,373.0 528.0,381.0 435.0,389.0 300.0,372.0 136.3,330.0" fill="url(#g1)"/>
<ellipse cx="140" cy="318" rx="30" ry="14" fill="#10b070" opacity="0.9" filter="url(#b6)"/>
<ellipse cx="540" cy="372" rx="130" ry="22" fill="#d4b614" opacity="0.9" filter="url(#b12)"/>
<ellipse cx="468" cy="298" rx="42" ry="28" fill="#cc3c08" opacity="0.95" filter="url(#b12)"/>
<ellipse cx="500" cy="320" rx="50" ry="30" fill="#d05a0a" opacity="0.6" filter="url(#b14)"/>
<ellipse cx="720" cy="260" rx="45" ry="75" fill="#cc4208" opacity="0.9" filter="url(#b16)"/>
<ellipse cx="650" cy="300" rx="40" ry="50" fill="#d06a0a" opacity="0.7" filter="url(#b16)"/>
<polyline points="135.3,329.5 141.4,326.4 201.6,324.4 283.0,319.3 360.0,307.5 394.7,298.9 417.2,291.0 434.5,283.3 448.4,274.6 472.7,269.4 507.3,261.6 533.3,253.8 550.7,249.5 571.5,240.8 594.0,233.0 620.0,227.8 643.6,223.0 660.4,225.9 684.7,223.0 712.7,217.5 740.7,211.0 757.5,208.7" fill="none" stroke="url(#g3)" stroke-width="22" stroke-linejoin="round" filter="url(#b6)"/>
<polyline points="135.3,318.5 141.4,315.4 201.6,313.4 283.0,308.3 360.0,296.5 394.7,287.9 417.2,280.0 434.5,272.3 448.4,263.6 472.7,258.4 507.3,250.6 533.3,242.8 550.7,238.5 571.5,229.8 594.0,222.0 620.0,216.8 643.6,212.0 660.4,214.9 684.7,212.0 712.7,206.5 740.7,200.0 757.5,197.7" fill="none" stroke="url(#g4)" stroke-width="22" stroke-linejoin="round" filter="url(#b4)"/>
<polyline points="135.3,310.5 141.4,307.4 201.6,305.4 283.0,300.3 360.0,288.5 394.7,279.9 417.2,272.0 434.5,264.3 448.4,255.6 472.7,250.4 507.3,242.6 533.3,234.8 550.7,230.5 571.5,221.8 594.0,214.0 620.0,208.8 643.6,204.0 660.4,206.9 684.7,204.0 712.7,198.5 740.7,192.0 757.5,189.7" fill="none" stroke="url(#g5)" stroke-width="9" stroke-linejoin="round" filter="url(#b2_5)"/>
<polyline points="135.3,308.0 141.4,304.9 201.6,302.9 283.0,297.8 360.0,286.0 394.7,277.4 417.2,269.5 434.5,261.8 448.4,253.1 472.7,247.9 507.3,240.1 533.3,232.3 550.7,228.0 571.5,219.3 594.0,211.5 620.0,206.3 643.6,201.5 660.4,204.4 684.7,201.5 712.7,196.0 740.7,189.5 757.5,187.2" fill="none" stroke="url(#g6)" stroke-width="5" stroke-linejoin="round" filter="url(#b1_5)"/>
<polyline points="135.3,308.5 141.4,305.4 201.6,303.4 283.0,298.3 360.0,286.5 394.7,277.9 417.2,270.0 434.5,262.3 448.4,253.6 472.7,248.4 507.3,240.6 533.3,232.8 550.7,228.5 571.5,219.8 594.0,212.0 620.0,206.8 643.6,202.0 660.4,204.9 684.7,202.0 712.7,196.5 740.7,190.0 757.5,187.7" fill="none" stroke="url(#g7)" stroke-width="5" stroke-linejoin="round" filter="url(#b1_5)"/>
<polyline points="135.3,314.5 141.4,311.4 201.6,309.4 283.0,304.3 360.0,292.5 394.7,283.9 417.2,276.0 434.5,268.3 448.4,259.6 472.7,254.4 507.3,246.6 533.3,238.8 550.7,234.5 571.5,225.8 594.0,218.0" fill="none" stroke="url(#g8)" stroke-width="14" stroke-linejoin="round" filter="url(#b4)"/>
<polyline points="135.3,310.5 141.4,307.4 201.6,305.4 283.0,300.3 360.0,288.5 394.7,279.9 417.2,272.0 434.5,264.3 448.4,255.6 472.7,250.4 507.3,242.6 533.3,234.8 550.7,230.5 571.5,221.8 594.0,214.0" fill="none" stroke="url(#g9)" stroke-width="11" stroke-linejoin="round" filter="url(#b2)"/>
<polyline points="135.3,307.0 141.4,303.9 201.6,301.9 283.0,296.8 360.0,285.0 394.7,276.4 417.2,268.5 434.5,260.8 448.4,252.1 472.7,246.9 507.3,239.1 533.3,231.3 550.7,227.0" fill="none" stroke="url(#g10)" stroke-width="4" stroke-linejoin="round" filter="url(#b1_2)"/>
<polyline points="571.5,219.8 594.0,212.0 620.0,206.8 643.6,202.0 660.4,204.9 684.7,202.0 712.7,196.5 740.7,190.0 757.5,187.7" fill="none" stroke="url(#g11)" stroke-width="6" stroke-linejoin="round" filter="url(#b2)"/>
<ellipse cx="632" cy="228" rx="24" ry="20" fill="#a8c014" opacity="0.6" filter="url(#b8)"/>
<ellipse cx="627" cy="224" rx="17" ry="16" fill="#30c030" opacity="0.9" filter="url(#b6)"/>
<polyline points="135.3,313.5 141.4,310.4 201.6,308.4 283.0,303.3 360.0,291.5 394.7,282.9 417.2,275.0 434.5,267.3 448.4,258.6 472.7,253.4 507.3,245.6 533.3,237.8 550.7,233.5 571.5,224.8 594.0,217.0 620.0,211.8 643.6,207.0 660.4,209.9 684.7,207.0 712.7,201.5 740.7,195.0 757.5,192.7" fill="none" stroke="url(#g12)" stroke-width="12" stroke-linejoin="round" filter="url(#b4)"/>
<ellipse cx="716" cy="198" rx="7" ry="4" fill="#40c030" opacity="0.9" filter="url(#b2)"/>
<ellipse cx="690" cy="202" rx="6" ry="3" fill="#60c020" opacity="0.8" filter="url(#b2)"/>
</g>
<g clip-path="url(#c13)">
<polygon points="743.0,155.0 744.4,157.0 746.3,168.3 751.9,177.6 757.5,184.7 743.0,187.0" fill="#3e4a58"/>
</g>
<g clip-path="url(#c15)">
<polygon points="744.4,157.0 759.3,147.7 770.5,142.0 772.4,138.4 806.0,116.0 834.0,100.0 867.6,82.4 868.5,82.0 864.0,300.0 757.5,368.0 757.5,184.7 751.9,177.6 746.3,168.3" fill="url(#g14)"/>
<ellipse cx="795" cy="235" rx="28" ry="55" fill="#c84008" opacity="0.75" filter="url(#b14)"/>
<ellipse cx="775" cy="170" rx="18" ry="20" fill="#d0a010" opacity="0.7" filter="url(#b8)"/>
<ellipse cx="840" cy="150" rx="30" ry="30" fill="#c8b014" opacity="0.6" filter="url(#b10)"/>
<polyline points="744.4,169.0 759.3,159.7 770.5,154.0 772.4,150.4 806.0,128.0 834.0,112.0 867.6,94.4 868.5,94.0" fill="none" stroke="url(#g16)" stroke-width="14" stroke-linejoin="round" filter="url(#b5)"/>
<polyline points="744.4,161.0 759.3,151.7 770.5,146.0 772.4,142.4 806.0,120.0 834.0,104.0 867.6,86.4 868.5,86.0" fill="none" stroke="url(#g17)" stroke-width="6" stroke-linejoin="round" filter="url(#b2)"/>
</g>
<polygon points="624.6,395.0 655.7,368.0 678.7,350.0 701.6,335.0 725.0,325.0 743.3,319.4 802.0,292.7 863.0,259.6 903.8,229.0 934.4,207.3 944.6,201.0 967.5,197.0 980.0,190.8 1005.7,160.0 1022.0,152.5 1018.5,155.0 996.8,422.8 959.0,436.8 956.0,437.0 900.0,452.0 818.5,466.0 788.0,472.0 711.5,490.0 678.0,505.4 640.0,515.0 624.6,520.0" fill="#cc6a10"/>
<g clip-path="url(#c19)">
<polygon points="624.6,395.0 655.7,368.0 678.7,350.0 701.6,335.0 711.5,330.8 711.5,490.0 678.0,505.4 640.0,515.0 624.6,520.0" fill="url(#g18)"/>
<ellipse cx="628" cy="410" rx="10" ry="22" fill="#1870c8" opacity="0.9" filter="url(#b5)"/>
<ellipse cx="630" cy="445" rx="10" ry="25" fill="#30b030" opacity="0.9" filter="url(#b6)"/>
<polyline points="624.6,403.0 655.7,376.0 678.7,358.0 701.6,343.0 711.5,338.8" fill="none" stroke="url(#g20)" stroke-width="12" stroke-linejoin="round" filter="url(#b4)"/>
<polyline points="624.6,398.0 655.7,371.0 678.7,353.0 701.6,338.0 711.5,333.8" fill="none" stroke="url(#g21)" stroke-width="6" stroke-linejoin="round" filter="url(#b2)"/>
</g>
<g clip-path="url(#c23)">
<polygon points="711.5,330.8 725.0,325.0 743.3,319.4 802.0,292.7 863.0,259.6 903.8,229.0 934.4,207.3 944.6,201.0 967.5,197.0 962.0,300.0 956.0,437.0 900.0,452.0 818.5,466.0 788.0,472.0 711.5,490.0" fill="url(#g22)"/>
<ellipse cx="790" cy="395" rx="90" ry="45" fill="#d08010" opacity="0.8" filter="url(#b18)"/>
<polyline points="711.5,370.8 725.0,365.0 743.3,359.4 802.0,332.7 863.0,299.6 903.8,269.0 934.4,247.3 944.6,241.0 967.5,237.0" fill="none" stroke="url(#g24)" stroke-width="30" stroke-linejoin="round" filter="url(#b7)"/>
<polyline points="711.5,352.8 725.0,347.0 743.3,341.4 802.0,314.7 863.0,281.6 903.8,251.0 934.4,229.3 944.6,223.0 967.5,219.0" fill="none" stroke="url(#g25)" stroke-width="32" stroke-linejoin="round" filter="url(#b4)"/>
<polyline points="711.5,340.8 725.0,335.0 743.3,329.4 802.0,302.7 863.0,269.6 903.8,239.0 934.4,217.3 944.6,211.0 967.5,207.0" fill="none" stroke="url(#g26)" stroke-width="14" stroke-linejoin="round" filter="url(#b3)"/>
<polyline points="711.5,334.8 725.0,329.0 743.3,323.4 802.0,296.7 863.0,263.6 903.8,233.0 934.4,211.3 944.6,205.0 967.5,201.0" fill="none" stroke="url(#g27)" stroke-width="7" stroke-linejoin="round" filter="url(#b1_5)"/>
<ellipse cx="850" cy="385" rx="35" ry="35" fill="#d8a010" opacity="0.8" filter="url(#b12)"/>
<ellipse cx="855" cy="335" rx="30" ry="30" fill="#d89a10" opacity="0.7" filter="url(#b12)"/>
<ellipse cx="925" cy="255" rx="45" ry="40" fill="#dc0c08" opacity="0.95" filter="url(#b14)"/>
<ellipse cx="905" cy="285" rx="30" ry="30" fill="#d02808" opacity="0.7" filter="url(#b12)"/>
<ellipse cx="880" cy="380" rx="40" ry="35" fill="#d0a010" opacity="0.7" filter="url(#b14)"/>
<ellipse cx="760" cy="450" rx="50" ry="35" fill="#cc4008" opacity="0.7" filter="url(#b14)"/>
<polyline points="711.5,335.8 725.0,330.0 743.3,324.4 802.0,297.7 863.0,264.6 903.8,234.0 934.4,212.3 944.6,206.0 967.5,202.0" fill="none" stroke="url(#g28)" stroke-width="8" stroke-linejoin="round" filter="url(#b3)"/>
</g>
<g clip-path="url(#c30)">
<polygon points="967.5,197.0 980.0,190.8 1005.7,160.0 1022.0,152.5 1018.5,155.0 996.8,422.8 954.0,438.4 954.5,420.0 963.5,270.0 966.5,230.0" fill="url(#g29)"/>
<ellipse cx="975" cy="285" rx="18" ry="45" fill="#d81010" opacity="0.9" filter="url(#b10)"/>
<ellipse cx="990" cy="330" rx="15" ry="40" fill="#cc4010" opacity="0.7" filter="url(#b10)"/>
<ellipse cx="1005" cy="210" rx="14" ry="30" fill="#a0b818" opacity="0.8" filter="url(#b8)"/>
<polyline points="967.5,205.0 980.0,198.8 1005.7,168.0 1022.0,160.5" fill="none" stroke="url(#g31)" stroke-width="12" stroke-linejoin="round" filter="url(#b4)"/>
<polyline points="967.5,200.0 980.0,193.8 1005.7,163.0 1022.0,155.5" fill="none" stroke="url(#g32)" stroke-width="5" stroke-linejoin="round" filter="url(#b2)"/>
</g>
<polygon points="136.3,318.7 181.0,322.8 222.0,326.0 250.5,332.0 260.0,337.0 271.3,343.9 273.9,350.0 312.0,361.2 346.7,371.6 381.3,380.3 416.0,385.5 435.0,392.4 450.7,402.8 476.7,418.4 501.3,433.6 526.5,439.4 559.4,445.2 580.7,449.0 588.5,452.9 609.8,455.8 621.4,461.6 640.0,482.0 642.7,488.9 663.0,503.0 678.0,513.0 693.6,520.7 711.5,523.0 715.0,600.0 619.7,591.0 522.6,570.0 507.0,565.2 438.4,514.0 287.2,468.6 264.8,449.3 150.6,437.0" fill="#8a8a18"/>
<g clip-path="url(#c34)">
<polygon points="136.3,318.7 181.0,322.8 222.0,326.0 250.5,332.0 258.0,335.9 264.0,449.3 150.6,437.0" fill="url(#g33)"/>
<ellipse cx="193" cy="372" rx="40" ry="36" fill="#c46c10" opacity="0.95" filter="url(#b14)"/>
<ellipse cx="200" cy="405" rx="45" ry="30" fill="#c48a10" opacity="0.6" filter="url(#b14)"/>
<ellipse cx="200" cy="436" rx="70" ry="10" fill="#c4b012" opacity="0.8" filter="url(#b6)"/>
<ellipse cx="146" cy="380" rx="10" ry="60" fill="#80b818" opacity="0.8" filter="url(#b6)"/>
<ellipse cx="245" cy="375" rx="14" ry="50" fill="#90b818" opacity="0.7" filter="url(#b8)"/>
<polyline points="136.3,327.7 181.0,331.8 222.0,335.0 250.5,341.0 258.0,344.9" fill="none" stroke="url(#g35)" stroke-width="18" stroke-linejoin="round" filter="url(#b4)"/>
<ellipse cx="238" cy="350" rx="22" ry="18" fill="#20a070" opacity="0.8" filter="url(#b8)"/>
<polyline points="136.3,321.2 181.0,325.3 222.0,328.5 250.5,334.5 258.0,338.4" fill="none" stroke="url(#g36)" stroke-width="5" stroke-linejoin="round" filter="url(#b2)"/>
</g>
<g clip-path="url(#c38)">
<polygon points="255.6,334.0 260.0,337.0 271.3,343.9 275.0,349.3 287.2,468.6 264.8,449.3" fill="url(#g37)"/>
</g>
<g clip-path="url(#c40)">
<polygon points="273.9,350.0 312.0,361.2 346.7,371.6 381.3,380.3 416.0,385.5 435.0,392.4 438.4,514.0 287.2,468.6" fill="url(#g39)"/>
<ellipse cx="405" cy="470" rx="45" ry="40" fill="#c0b012" opacity="0.9" filter="url(#b14)"/>
<ellipse cx="300" cy="440" rx="25" ry="50" fill="#30b028" opacity="0.7" filter="url(#b10)"/>
<ellipse cx="340" cy="420" rx="40" ry="25" fill="#18a830" opacity="0.6" filter="url(#b10)"/>
<polyline points="273.9,366.0 312.0,377.2 346.7,387.6 381.3,396.3 416.0,401.5 435.0,408.4" fill="none" stroke="url(#g41)" stroke-width="14" stroke-linejoin="round" filter="url(#b4)"/>
<polyline points="273.9,358.0 312.0,369.2 346.7,379.6 381.3,388.3 416.0,393.5 435.0,400.4" fill="none" stroke="url(#g42)" stroke-width="9" stroke-linejoin="round" filter="url(#b2_5)"/>
<polyline points="273.9,353.0 312.0,364.2 346.7,374.6 381.3,383.3 416.0,388.5 435.0,395.4" fill="none" stroke="url(#g43)" stroke-width="6" stroke-linejoin="round" filter="url(#b1_2)"/>
</g>
<g clip-path="url(#c45)">
<polygon points="435.0,392.4 450.7,402.8 476.7,418.4 501.3,433.6 507.0,434.9 507.0,565.2 438.4,514.0" fill="url(#g44)"/>
<ellipse cx="445" cy="480" rx="12" ry="40" fill="#a09a14" opacity="0.6" filter="url(#b8)"/>
<polyline points="435.0,402.4 450.7,412.8 476.7,428.4 501.3,443.6 507.0,444.9" fill="none" stroke="url(#g46)" stroke-width="12" stroke-linejoin="round" filter="url(#b4)"/>
<polyline points="435.0,396.4 450.7,406.8 476.7,422.4 501.3,437.6 507.0,438.9" fill="none" stroke="url(#g47)" stroke-width="7" stroke-linejoin="round" filter="url(#b2)"/>
</g>
<g clip-path="url(#c49)">
<polygon points="507.0,434.9 526.5,439.4 559.4,445.2 580.7,449.0 588.5,452.9 609.8,455.8 619.7,460.8 619.7,591.0 522.6,570.0 507.0,565.2" fill="url(#g48)"/>
<ellipse cx="598" cy="510" rx="28" ry="55" fill="#cc3808" opacity="0.85" filter="url(#b12)"/>
<ellipse cx="525" cy="545" rx="25" ry="30" fill="#d0a812" opacity="0.7" filter="url(#b10)"/>
<ellipse cx="540" cy="470" rx="40" ry="15" fill="#d08010" opacity="0.5" filter="url(#b8)"/>
<polyline points="507.0,443.9 526.5,448.4 559.4,454.2 580.7,458.0 588.5,461.9 609.8,464.8 619.7,469.8" fill="none" stroke="url(#g50)" stroke-width="12" stroke-linejoin="round" filter="url(#b4)"/>
<polyline points="507.0,437.9 526.5,442.4 559.4,448.2 580.7,452.0 588.5,455.9 609.8,458.8 619.7,463.8" fill="none" stroke="url(#g51)" stroke-width="5" stroke-linejoin="round" filter="url(#b2)"/>
</g>
<g clip-path="url(#c53)">
<polygon points="619.7,460.8 621.4,461.6 640.0,482.0 642.7,488.9 663.0,503.0 678.0,513.0 693.6,520.7 711.5,523.0 715.0,600.0 619.7,591.0" fill="url(#g52)"/>
<ellipse cx="690" cy="528" rx="22" ry="10" fill="#1870b0" opacity="0.7" transform="rotate(30 690 528)" filter="url(#b5)"/>
<ellipse cx="700" cy="522" rx="14" ry="6" fill="#30a040" opacity="0.7" transform="rotate(30 700 522)" filter="url(#b3)"/>
<ellipse cx="645" cy="505" rx="15" ry="30" fill="#7a4c1a" opacity="0.6" filter="url(#b8)"/>
</g>
<g clip-path="url(#c55)">
<polygon points="619.7,579.0 714.0,523.0 754.8,500.0 818.5,469.7 838.9,449.0 861.8,420.0 878.0,400.0 907.6,346.0 919.0,323.0 937.0,292.7 952.0,270.0 965.0,244.0 970.0,224.0 967.5,197.0 965.0,270.0 956.0,420.0 955.0,460.3 925.5,496.2 889.7,536.6 867.2,556.7 844.8,583.6 822.4,606.0 714.7,686.9 622.3,748.5" fill="url(#g54)"/>
<ellipse cx="660" cy="660" rx="45" ry="70" fill="#cc5010" opacity="0.9" filter="url(#b16)"/>
<ellipse cx="690" cy="590" rx="35" ry="25" fill="#d8a010" opacity="0.8" filter="url(#b10)"/>
<ellipse cx="650" cy="720" rx="35" ry="30" fill="#cc7810" opacity="0.8" filter="url(#b12)"/>
<ellipse cx="715" cy="545" rx="14" ry="30" fill="#d09010" opacity="0.7" filter="url(#b6)"/>
<ellipse cx="900" cy="440" rx="25" ry="70" fill="#c07018" opacity="0.8" filter="url(#b12)"/>
<ellipse cx="940" cy="420" rx="18" ry="60" fill="#90a020" opacity="0.8" filter="url(#b10)"/>
<ellipse cx="955" cy="300" rx="10" ry="60" fill="#c03010" opacity="0.8" filter="url(#b8)"/>
<ellipse cx="915" cy="370" rx="15" ry="30" fill="#2080c0" opacity="0.7" filter="url(#b6)"/>
<ellipse cx="880" cy="470" rx="45" ry="40" fill="#b89a18" opacity="0.8" filter="url(#b12)"/>
<ellipse cx="850" cy="555" rx="28" ry="45" fill="#b83010" opacity="0.9" filter="url(#b10)"/>
<ellipse cx="900" cy="505" rx="20" ry="30" fill="#b85010" opacity="0.6" filter="url(#b10)"/>
<ellipse cx="870" cy="480" rx="20" ry="30" fill="#6a9a30" opacity="0.6" filter="url(#b10)"/>
<polyline points="619.7,588.0 714.0,532.0 754.8,509.0 818.5,478.7 838.9,458.0 861.8,429.0 878.0,409.0 907.6,355.0 919.0,332.0 937.0,301.7 952.0,279.0 965.0,253.0 970.0,233.0 967.5,206.0" fill="none" stroke="url(#g56)" stroke-width="14" stroke-linejoin="round" filter="url(#b4)"/>
<polyline points="619.7,582.0 714.0,526.0 754.8,503.0 818.5,472.7 838.9,452.0 861.8,423.0 878.0,403.0 907.6,349.0 919.0,326.0 937.0,295.7 952.0,273.0 965.0,247.0 970.0,227.0 967.5,200.0" fill="none" stroke="url(#g57)" stroke-width="6" stroke-linejoin="round" filter="url(#b2)"/>
</g>
<g clip-path="url(#c59)">
<polygon points="711.5,523.0 738.0,523.4 757.7,522.4 783.8,516.9 803.4,513.6 823.0,511.3 819.6,660.0 815.3,725.9 714.7,686.9 715.3,525.0" fill="url(#g58)"/>
<ellipse cx="785" cy="545" rx="35" ry="22" fill="#cc3410" opacity="0.9" filter="url(#b10)"/>
<ellipse cx="740" cy="543" rx="30" ry="8" fill="#30b040" opacity="0.85" transform="rotate(38 740 543)" filter="url(#b3)"/>
<ellipse cx="738" cy="541" rx="24" ry="4.5" fill="#0848c8" opacity="0.9" transform="rotate(38 738 541)" filter="url(#b1_8)"/>
<ellipse cx="735" cy="665" rx="25" ry="30" fill="#c04a10" opacity="0.7" filter="url(#b12)"/>
<ellipse cx="720" cy="600" rx="10" ry="70" fill="#c06010" opacity="0.6" filter="url(#b8)"/>
</g>
<polyline points="141.4,302.4 201.6,300.4 283.0,295.3 360.0,283.5 394.7,274.9 417.2,267.0 434.5,259.3 448.4,250.6 472.7,245.4 507.3,237.6 533.3,229.8 550.7,225.5 571.5,216.8 594.0,209.0 620.0,203.8 643.6,199.0 660.4,201.9 684.7,199.0 712.7,193.5 740.7,187.0 757.5,184.7" fill="none" stroke="#0a0a0a" stroke-width="2.4" stroke-linejoin="round" stroke-linecap="round"/>
<polyline points="744.4,157.0 746.3,168.3 751.9,177.6 759.3,184.0" fill="none" stroke="#0a0a0a" stroke-width="2.2" stroke-linejoin="round" stroke-linecap="round"/>
<polyline points="744.4,157.0 759.3,147.7 770.5,142.0 772.4,138.4 806.0,116.0 834.0,100.0 867.6,82.4 868.5,82.0" fill="none" stroke="#0a0a0a" stroke-width="2.4" stroke-linejoin="round" stroke-linecap="round"/>
<polyline points="136.3,318.7 181.0,322.8 222.0,326.0 250.5,332.0 260.0,337.0 271.3,343.9 273.9,350.0 312.0,361.2 346.7,371.6 381.3,380.3 416.0,385.5 435.0,392.4 450.7,402.8 476.7,418.4 501.3,433.6 526.5,439.4 559.4,445.2 580.7,449.0 588.5,452.9 609.8,455.8 621.4,461.6 640.0,482.0 642.7,488.9 663.0,503.0 678.0,513.0 693.6,520.7 711.5,523.0" fill="none" stroke="#0a0a0a" stroke-width="2.4" stroke-linejoin="round" stroke-linecap="round"/>
<polyline points="624.6,395.0 655.7,368.0 678.7,350.0 701.6,335.0 725.0,325.0 743.3,319.4 802.0,292.7 863.0,259.6 903.8,229.0 934.4,207.3 944.6,201.0 967.5,197.0 980.0,190.8 1005.7,160.0 1022.0,152.5" fill="none" stroke="#0a0a0a" stroke-width="2.4" stroke-linejoin="round" stroke-linecap="round"/>
<polyline points="619.7,579.0 714.0,523.0 754.8,500.0 818.5,469.7 838.9,449.0 861.8,420.0 878.0,400.0 907.6,346.0 919.0,323.0 937.0,292.7 952.0,270.0 965.0,244.0 970.0,224.0 967.5,197.0" fill="none" stroke="#0a0a0a" stroke-width="2.4" stroke-linejoin="round" stroke-linecap="round"/>
<polyline points="711.5,523.0 738.0,523.4 757.7,522.4 783.8,516.9 803.4,513.6 823.0,511.3" fill="none" stroke="#0a0a0a" stroke-width="2.0" stroke-linejoin="round" stroke-linecap="round"/>
<polyline points="965,272 960,360 956,455" fill="none" stroke="#3a3a2a" stroke-width="1" stroke-dasharray="2,3" opacity="0.8"/>
<g><path d="M220.5,326 L220.5,318 Q226,312 231.5,318 L231.5,326 Z" fill="#fff" stroke="#555" stroke-width="0.8"/><path d="M223.5,326 L223.5,319.5 Q227,315.5 230.5,319.5 L230.5,326 Z" fill="#111"/><ellipse cx="688" cy="332.6" rx="12" ry="4.3" fill="#fff"/><ellipse cx="689" cy="332.6" rx="8.5" ry="2.8" fill="#111"/><ellipse cx="868" cy="412.2" rx="13.5" ry="5.2" fill="#fff"/><ellipse cx="867" cy="412" rx="10" ry="3.5" fill="#111"/><path d="M532.5,512 L532.5,556 Q540,560 547.5,556 L547.5,512 Q540,506 532.5,512 Z" fill="#fff"/><path d="M534,513 L534,555 Q540,558.5 546,555 L546,513 Q540,509 534,513 Z" fill="#111" stroke="#111" stroke-width="0.5"/><path d="M536.5,515 L536.5,554" stroke="#777" stroke-width="1.2"/></g>
<circle cx="227.6" cy="267.8" r="19.8" fill="none" stroke="#0a0a0a" stroke-width="3.3"/><text transform="translate(216.86,281.80) scale(1.0215,1)" font-family="Liberation Sans, sans-serif" font-weight="normal" font-size="40.00" fill="#0a0a0a" stroke="#0a0a0a" stroke-width="0.9">9</text>
<circle cx="684.6" cy="294.4" r="19.8" fill="none" stroke="#0a0a0a" stroke-width="3.3"/><text transform="translate(674.76,307.80) scale(0.9411,1)" font-family="Liberation Sans, sans-serif" font-weight="normal" font-size="39.00" fill="#0a0a0a" stroke="#0a0a0a" stroke-width="0.9">2</text>
<circle cx="835.8" cy="398.9" r="19.8" fill="none" stroke="#0a0a0a" stroke-width="3.3"/><text transform="translate(826.54,412.41) scale(0.8710,1)" font-family="Liberation Sans, sans-serif" font-weight="normal" font-size="39.15" fill="#0a0a0a" stroke="#0a0a0a" stroke-width="0.9">3</text>
<circle cx="522.3" cy="604.4" r="19.8" fill="none" stroke="#0a0a0a" stroke-width="3.3"/><text transform="translate(509.57,617.80) scale(0.3999,1)" font-family="Liberation Sans, sans-serif" font-weight="bold" font-size="38.84" fill="#0a0a0a" >1</text><text transform="translate(518.61,617.42) scale(0.9203,1)" font-family="Liberation Sans, sans-serif" font-weight="bold" font-size="37.75" fill="#0a0a0a" >0</text>
<polyline points="1276.5,89.6 1302.1,97.6 1272.3,105.6 1296.8,113" fill="none" stroke="#0a0a14" stroke-width="3.2" stroke-linejoin="miter"/>
<polygon points="1300.5,105.1 1391.7,167.5 1355,122.1" fill="#fff" stroke="#888" stroke-width="1.2" stroke-linejoin="round"/>
<polygon points="1300.5,105.1 1411,107.5 1355,122.1" fill="#050505"/>
<polyline points="773.9,560.5 1035,537.2" stroke="#0a0a0a" stroke-width="3.2" fill="none"/>
</g>
<g id="texts">
<text transform="translate(242.74,49.12) scale(1.0479,1)" font-family="Liberation Serif, serif" font-weight="normal" font-size="69.23" fill="#111" >(a)</text>
<text transform="translate(417.60,46.49)" font-family="Liberation Serif, serif" font-weight="normal" font-size="39.56" fill="#111" >x(m)</text>
<text transform="translate(1136.61,87.49) scale(0.9763,1)" font-family="Liberation Serif, serif" font-weight="normal" font-size="39.56" fill="#111" >y(m)</text>
<text transform="translate(-0.96,333.49) scale(0.9722,1)" font-family="Liberation Serif, serif" font-weight="normal" font-size="39.56" fill="#111" >z(m)</text>
<text transform="translate(106.61,129.73) scale(1.0406,1)" font-family="Liberation Sans, sans-serif" font-weight="normal" font-size="26.76" fill="#2e2e2e" >200</text>
<text transform="translate(335.36,95.73) scale(1.0527,1)" font-family="Liberation Sans, sans-serif" font-weight="normal" font-size="27.18" fill="#2e2e2e" >300</text>
<text transform="translate(541.44,64.73) scale(1.0445,1)" font-family="Liberation Sans, sans-serif" font-weight="normal" font-size="26.76" fill="#2e2e2e" >400</text>
<text transform="translate(726.87,36.71) scale(0.9802,1)" font-family="Liberation Sans, sans-serif" font-weight="normal" font-size="28.87" fill="#2e2e2e" >500</text>
<text transform="translate(787.84,27.71) scale(1.0069,1)" font-family="Liberation Sans, sans-serif" font-weight="normal" font-size="28.73" fill="#2e2e2e" >300</text>
<text transform="translate(918.58,70.73) scale(1.0643,1)" font-family="Liberation Sans, sans-serif" font-weight="normal" font-size="26.76" fill="#2e2e2e" >200</text>
<text transform="translate(1075.45,123.74) scale(1.0489,1)" font-family="Liberation Sans, sans-serif" font-weight="normal" font-size="26.06" fill="#2e2e2e" >100</text>
<text transform="translate(1283.00,187.75) scale(0.9861,1)" font-family="Liberation Sans, sans-serif" font-weight="normal" font-size="25.35" fill="#2e2e2e" >0</text>
<text transform="translate(67.67,218.73) scale(1.0543,1)" font-family="Liberation Sans, sans-serif" font-weight="normal" font-size="26.76" fill="#2e2e2e" >50</text>
<text transform="translate(76.33,277.73) scale(1.0258,1)" font-family="Liberation Sans, sans-serif" font-weight="normal" font-size="26.76" fill="#2e2e2e" >25</text>
<text transform="translate(99.53,334.27) scale(1.1475,1)" font-family="Liberation Sans, sans-serif" font-weight="normal" font-size="23.24" fill="#2e2e2e" >0</text>
<text transform="translate(83.81,390.28) scale(1.2125,1)" font-family="Liberation Sans, sans-serif" font-weight="normal" font-size="21.83" fill="#2e2e2e" >-25</text>
<text transform="translate(82.88,437.33) scale(1.0450,1)" font-family="Liberation Sans, sans-serif" font-weight="normal" font-size="26.90" fill="#2e2e2e" >300</text>
<text transform="translate(160.62,527.70) scale(0.9308,1)" font-family="Liberation Sans, sans-serif" font-weight="normal" font-size="29.58" fill="#2e2e2e" >200</text>
<text transform="translate(255.88,637.70) scale(0.9567,1)" font-family="Liberation Sans, sans-serif" font-weight="normal" font-size="29.58" fill="#2e2e2e" >100</text>
<text transform="translate(406.92,777.74) scale(1.0394,1)" font-family="Liberation Sans, sans-serif" font-weight="normal" font-size="26.06" fill="#2e2e2e" >0</text>
<text transform="translate(543.62,859.71) scale(0.9629,1)" font-family="Liberation Sans, sans-serif" font-weight="normal" font-size="28.59" fill="#2e2e2e" >200</text>
<text transform="translate(825.06,763.71) scale(0.9747,1)" font-family="Liberation Sans, sans-serif" font-weight="normal" font-size="29.30" fill="#2e2e2e" >300</text>
<text transform="translate(689.96,880.17) scale(1.1053,1)" font-family="Liberation Serif, serif" font-weight="normal" font-size="33.63" fill="#111" >log10(Resistivity in Ohm-m)</text>
<text transform="translate(563.70,923.47) scale(1.0903,1)" font-family="Liberation Serif, serif" font-weight="normal" font-size="35.56" fill="#111" >1.6</text>
<text transform="translate(744.61,924.00) scale(1.2787,1)" font-family="Liberation Serif, serif" font-weight="normal" font-size="36.36" fill="#111" >2</text>
<text transform="translate(929.22,923.47) scale(1.1154,1)" font-family="Liberation Serif, serif" font-weight="normal" font-size="35.56" fill="#111" >2.6</text>
<text transform="translate(1195.12,923.47) scale(1.1729,1)" font-family="Liberation Serif, serif" font-weight="normal" font-size="35.56" fill="#111" >3.7</text>
</g>
<rect x="1034.5" y="253" width="457" height="592" fill="#fff" stroke="#050505" stroke-width="3.8"/>
<rect x="1120.5" y="263.2" width="303.2" height="501.8" fill="none" stroke="#787878" stroke-width="1.6"/>
<line x1="1134.3" y1="287.7" x2="1409.3" y2="287.7" stroke="#787878" stroke-width="1.4"/>
<line x1="1120.5" y1="263.2" x2="1134.3" y2="287.7" stroke="#787878" stroke-width="1.4"/>
<line x1="1423.7" y1="263.2" x2="1409.3" y2="287.7" stroke="#787878" stroke-width="1.4"/>
<line x1="1423.7" y1="765" x2="1409.3" y2="741.6" stroke="#787878" stroke-width="1.4"/>
<line x1="1134.3" y1="287.7" x2="1134.3" y2="741.6" stroke="#787878" stroke-width="1.4"/>
<line x1="1409.3" y1="287.7" x2="1409.3" y2="741.6" stroke="#787878" stroke-width="1.4"/>
<line x1="1134.3" y1="324" x2="1409.3" y2="324" stroke="#787878" stroke-width="1.4"/>
<line x1="1120.5" y1="303.6" x2="1134.3" y2="324" stroke="#787878" stroke-width="1.4"/>
<line x1="1424" y1="303.3" x2="1409.3" y2="322" stroke="#787878" stroke-width="1.4"/>
<line x1="1409.3" y1="474.8" x2="1423.7" y2="470" stroke="#787878" stroke-width="1.4"/>
<line x1="1409.3" y1="628" x2="1423.7" y2="641" stroke="#787878" stroke-width="1.4"/>
<line x1="1186" y1="263.2" x2="1194.7" y2="287.7" stroke="#787878" stroke-width="1.4"/>
<line x1="1194.7" y1="287.7" x2="1194.7" y2="741.6" stroke="#787878" stroke-width="1.4"/>
<line x1="1186" y1="765" x2="1194.7" y2="741.6" stroke="#787878" stroke-width="1.4"/>
<line x1="1253.4" y1="263.2" x2="1255" y2="287.7" stroke="#787878" stroke-width="1.4"/>
<line x1="1255" y1="287.7" x2="1255" y2="741.6" stroke="#787878" stroke-width="1.4"/>
<line x1="1253.4" y1="765" x2="1255" y2="741.6" stroke="#787878" stroke-width="1.4"/>
<line x1="1320.7" y1="263.2" x2="1316" y2="287.7" stroke="#787878" stroke-width="1.4"/>
<line x1="1316" y1="287.7" x2="1316" y2="741.6" stroke="#787878" stroke-width="1.4"/>
<line x1="1320.7" y1="765" x2="1316" y2="741.6" stroke="#787878" stroke-width="1.4"/>
<line x1="1388" y1="263.2" x2="1376.7" y2="287.7" stroke="#787878" stroke-width="1.4"/>
<line x1="1376.7" y1="287.7" x2="1376.7" y2="741.6" stroke="#787878" stroke-width="1.4"/>
<line x1="1388" y1="765" x2="1376.7" y2="741.6" stroke="#787878" stroke-width="1.4"/>
<defs><clipPath id="insetclip"><polygon points="1120.4,378.4 1200,355.5 1260,338.5 1300,328 1313.3,320.5 1326.7,313.5 1337.3,307.5 1350.7,301.5 1366.7,296.5 1386.7,292 1409.3,288.3 1409.3,741.6 1120.4,765"/></clipPath><linearGradient id="insg" gradientUnits="userSpaceOnUse" x1="1071.3" y1="750.6" x2="1218.8" y2="415.5"><stop offset="0" stop-color="#ff4800"/><stop offset="0.3" stop-color="#ff7a00"/><stop offset="0.65" stop-color="#ffbc00"/><stop offset="0.9" stop-color="#fff400"/><stop offset="1" stop-color="#ffff00"/></linearGradient><radialGradient id="inso" cx="0.5" cy="0.5" r="0.5"><stop offset="0" stop-color="#ff8c00"/><stop offset="0.3" stop-color="#ffa000"/><stop offset="0.65" stop-color="#ffd000" stop-opacity="0.8"/><stop offset="1" stop-color="#ffff00" stop-opacity="0"/></radialGradient><radialGradient id="insr" cx="0.5" cy="0.5" r="0.5"><stop offset="0" stop-color="#ff3000"/><stop offset="0.25" stop-color="#ff4800"/><stop offset="0.55" stop-color="#ff8000"/><stop offset="0.8" stop-color="#ffb000" stop-opacity="0.7"/><stop offset="1" stop-color="#ffd000" stop-opacity="0"/></radialGradient><filter id="ib1_5" x="-100%" y="-100%" width="300%" height="300%"><feGaussianBlur stdDeviation="1.5"/></filter><filter id="ib2" x="-100%" y="-100%" width="300%" height="300%"><feGaussianBlur stdDeviation="2"/></filter><filter id="ib3" x="-100%" y="-100%" width="300%" height="300%"><feGaussianBlur stdDeviation="3"/></filter><filter id="ib6" x="-100%" y="-100%" width="300%" height="300%"><feGaussianBlur stdDeviation="6"/></filter><filter id="ib12" x="-100%" y="-100%" width="300%" height="300%"><feGaussianBlur stdDeviation="12"/></filter></defs>
<g clip-path="url(#insetclip)">
<polygon points="1120.4,378.4 1200,355.5 1260,338.5 1300,328 1313.3,320.5 1326.7,313.5 1337.3,307.5 1350.7,301.5 1366.7,296.5 1386.7,292 1409.3,288.3 1409.3,741.6 1120.4,765" fill="url(#insg)"/>
<ellipse cx="1395" cy="470" rx="30" ry="90" fill="#ffb000" opacity="0.8" filter="url(#ib12)"/>
<ellipse cx="1352" cy="368" rx="80" ry="78" fill="url(#insr)"/>
<ellipse cx="1285" cy="342" rx="30" ry="16" fill="#ff8a00" opacity="0.7" filter="url(#ib6)"/>
<ellipse cx="1194" cy="428" rx="50" ry="44" fill="url(#inso)"/>
<polygon points="1110,379 1240,342 1252,340 1262,348 1276,375 1282,408 1278,425 1265,433 1248,428 1232,418 1212,411 1190,411 1165,412 1146,416 1145,440 1142,480 1135,505 1110,510" fill="#b0f000" opacity="0.6" filter="url(#ib6)"/>
<polygon points="1110,379 1240,342 1252,340 1262,348 1274,375 1278,405 1274,420 1262,425 1248,421 1232,413 1212,407 1190,407 1165,408 1146,410 1136,425 1130,450 1122,470 1110,475" fill="#28e400" opacity="1" filter="url(#ib2)"/>
<polygon points="1110,379 1228,345 1240,343 1252,352 1264,375 1268,398 1262,410 1248,413 1232,405 1215,399 1190,400 1160,401 1135,402 1122,404 1110,404" fill="#00f6a6" opacity="1" filter="url(#ib1_5)"/>
<polygon points="1195,354 1225,346 1238,350 1250,370 1254,392 1246,400 1236,398 1225,390 1210,390 1195,388" fill="#0a88dc" opacity="1" filter="url(#ib1_5)"/>
<polygon points="1110,379 1210,352 1210,372 1200,386 1180,391 1150,392 1125,392 1110,390" fill="#0048c8" opacity="1" filter="url(#ib1_5)"/>
<ellipse cx="1238" cy="381" rx="10" ry="13" fill="#0060c8" opacity="1" filter="url(#ib3)"/>
<polygon points="1126,377.5 1163,367 1166,378 1150,386 1130,387 1125,383" fill="#000a88" opacity="1" filter="url(#ib1_5)"/>
<polygon points="1176,363.5 1190,359.5 1192,370 1184,375 1176,372" fill="#000c90" opacity="1" filter="url(#ib1_5)"/>
<ellipse cx="1315" cy="322" rx="16" ry="12" fill="#ffff00" opacity="0.9" filter="url(#ib3)"/>
<ellipse cx="1315" cy="322" rx="12" ry="8" fill="#40e000" opacity="1" filter="url(#ib2)"/>
<ellipse cx="1354" cy="303" rx="10" ry="8" fill="#ffff00" opacity="0.9" filter="url(#ib3)"/>
<ellipse cx="1354" cy="303" rx="6" ry="4" fill="#40e000" opacity="1" filter="url(#ib2)"/>
<ellipse cx="1374" cy="305" rx="12" ry="12" fill="#ffff00" opacity="0.9" filter="url(#ib3)"/>
<ellipse cx="1374" cy="305" rx="8" ry="8" fill="#30e000" opacity="1" filter="url(#ib2)"/>
<ellipse cx="1400" cy="296" rx="12" ry="10" fill="#ffff00" opacity="0.9" filter="url(#ib3)"/>
<ellipse cx="1400" cy="296" rx="8" ry="6" fill="#a0f000" opacity="1" filter="url(#ib2)"/>
<ellipse cx="1384" cy="294" rx="5" ry="3" fill="#ff7000" opacity="1" filter="url(#ib2)"/>
</g>
<text transform="translate(1079.58,312.22) scale(1.0093,1)" font-family="Liberation Sans, sans-serif" font-weight="normal" font-size="28.17" fill="#1a1a1a" >25</text>
<text transform="translate(1430.53,312.42) scale(1.0441,1)" font-family="Liberation Sans, sans-serif" font-weight="normal" font-size="28.17" fill="#1a1a1a" >25</text>
<text transform="translate(1095.92,481.15) scale(1.0683,1)" font-family="Liberation Sans, sans-serif" font-weight="normal" font-size="25.35" fill="#1a1a1a" >0</text>
<text transform="translate(1430.62,481.15) scale(1.1669,1)" font-family="Liberation Sans, sans-serif" font-weight="normal" font-size="25.35" fill="#1a1a1a" >0</text>
<text transform="translate(1071.16,649.02)" font-family="Liberation Sans, sans-serif" font-weight="normal" font-size="27.61" fill="#1a1a1a" >-25</text>
<text transform="translate(1432.23,649.02) scale(1.0255,1)" font-family="Liberation Sans, sans-serif" font-weight="normal" font-size="27.61" fill="#1a1a1a" >-25</text>
<text transform="translate(1165.71,797.42) scale(1.0297,1)" font-family="Liberation Sans, sans-serif" font-weight="normal" font-size="27.75" fill="#1a1a1a" >-10</text>
<text transform="translate(1233.54,797.42) scale(1.0086,1)" font-family="Liberation Sans, sans-serif" font-weight="normal" font-size="27.75" fill="#1a1a1a" >-20</text>
<text transform="translate(1300.75,797.42)" font-family="Liberation Sans, sans-serif" font-weight="normal" font-size="27.75" fill="#1a1a1a" >-30</text>
<text transform="translate(1367.75,797.42)" font-family="Liberation Sans, sans-serif" font-weight="normal" font-size="27.75" fill="#1a1a1a" >-40</text>
<text transform="translate(1228.61,830.75) scale(1.0848,1)" font-family="Liberation Serif, serif" font-weight="normal" font-size="35.60" fill="#111" >y(m)</text>
<text transform="translate(1235.44,707.57) scale(1.0373,1)" font-family="Liberation Serif, serif" font-weight="normal" font-size="69.89" fill="#111" >(b)</text>
<g transform="translate(1052.8,507.4) rotate(-90)"><text transform="translate(-0.98,27.42)" font-family="Liberation Serif, serif" font-weight="normal" font-size="39.45" fill="#111" >z(m)</text></g>
<defs><linearGradient id="cbar" x1="0" y1="0" x2="1" y2="0"><stop offset="0.0000" stop-color="#000a88"/><stop offset="0.0189" stop-color="#00109a"/><stop offset="0.0394" stop-color="#0020c0"/><stop offset="0.0473" stop-color="#0040e0"/><stop offset="0.0662" stop-color="#0048d8"/><stop offset="0.0899" stop-color="#0058cc"/><stop offset="0.1214" stop-color="#0070d0"/><stop offset="0.1608" stop-color="#0088dc"/><stop offset="0.1923" stop-color="#0098d8"/><stop offset="0.2160" stop-color="#00a8c0"/><stop offset="0.2475" stop-color="#10b0a8"/><stop offset="0.2656" stop-color="#10b4a4"/><stop offset="0.2672" stop-color="#00ffa8"/><stop offset="0.2948" stop-color="#00ffa0"/><stop offset="0.3342" stop-color="#00f860"/><stop offset="0.3815" stop-color="#00f020"/><stop offset="0.4288" stop-color="#20f000"/><stop offset="0.4682" stop-color="#60f000"/><stop offset="0.5076" stop-color="#a0f000"/><stop offset="0.5471" stop-color="#d8f400"/><stop offset="0.5707" stop-color="#ffff00"/><stop offset="0.6338" stop-color="#ffd400"/><stop offset="0.6811" stop-color="#ffb400"/><stop offset="0.7284" stop-color="#ff9400"/><stop offset="0.7757" stop-color="#ff8000"/><stop offset="0.8230" stop-color="#ff6a00"/><stop offset="0.8703" stop-color="#ff5000"/><stop offset="0.9018" stop-color="#ff3c00"/><stop offset="0.9065" stop-color="#e02a00"/><stop offset="0.9254" stop-color="#d01800"/><stop offset="1.0000" stop-color="#d00400"/></linearGradient></defs>
<rect x="588" y="957.3" width="634.3" height="22.5" fill="url(#cbar)"/>
<line x1="588" y1="939.7" x2="588" y2="966" stroke="#333" stroke-width="1.6"/>
<line x1="757" y1="939.7" x2="757" y2="966" stroke="#333" stroke-width="1.6"/>
<line x1="955.5" y1="939.7" x2="955.5" y2="966" stroke="#333" stroke-width="1.6"/>
<line x1="1222" y1="939.7" x2="1222" y2="966" stroke="#333" stroke-width="1.6"/>
</svg>
</body></html>
